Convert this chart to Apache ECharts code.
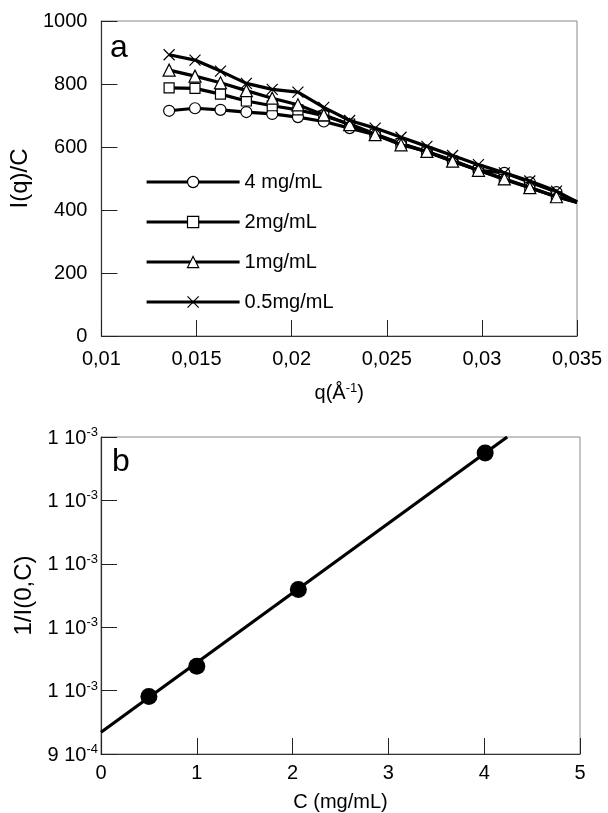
<!DOCTYPE html>
<html><head><meta charset="utf-8">
<script src="https://cdn.jsdelivr.net/npm/echarts@6/dist/echarts.min.js"></script>
<style>html,body{margin:0;padding:0;background:#fff}#c{width:608px;height:813px}</style>
</head><body><div id="c"></div>
<script>
// ---- Panel a data ----
var qValues = [0.01356, 0.01492, 0.01626, 0.01762, 0.01898, 0.02033, 0.02169, 0.02305, 0.02439, 0.02575, 0.02711, 0.02846, 0.02982, 0.03118, 0.03252, 0.03392];
var qEnd = 0.035;
var seriesNames = ['4 mg/mL', '2mg/mL', '1mg/mL', '0.5mg/mL'];
var i4 = [715, 723, 718, 711, 705, 695, 681, 660, 639, 611, 586, 558, 526, 518, 488, 457];
var i2 = [788, 786, 768, 746, 731, 718, 699, 673, 641, 611, 584, 555, 526, 497, 471, 442];
var i1 = [844, 825, 804, 779, 755, 734, 702, 671, 639, 607, 586, 555, 526, 499, 471, 442];
var i05 = [893, 876, 841, 802, 783, 774, 726, 684, 660, 631, 602, 573, 544, 518, 492, 460];
var iEnd = [426, 425, 424, 425];
var aXTicks = [0.01, 0.015, 0.02, 0.025, 0.03, 0.035];
var aYTicks = [0, 200, 400, 600, 800, 1000];

// ---- Panel b data ----
var cValues = [0.5, 1.0, 2.06, 4.01];
var invI0 = [0.0009453, 0.0009692, 0.0010297, 0.0011374];
var fitC = [0, 4.24];
var fitInv = [0.0009171, 0.00115];
var bXTicks = [0, 1, 2, 3, 4, 5];
var bYTicks = [0.0009, 0.00095, 0.001, 0.00105, 0.0011, 0.00115];

var FONT = 'Liberation Sans, Arial, sans-serif';
var chart = echarts.init(document.getElementById('c'), null, {renderer: 'canvas'});

function pts(xs, ys, endX, endY) {
  var d = xs.map(function (x, k) { return [x, ys[k]]; });
  d.push({value: [endX, endY], symbol: 'none'});
  return d;
}
var symbols = ['circle', 'rect', 'triangle', 'path://M0,0L10,10M10,0L0,10'];
var sizes = [11, 10, 12, 11];
var aData = [i4, i2, i1, i05];

var series = [];
for (var s = 3; s >= 0; s--) {
  series.push({
    name: seriesNames[s], type: 'line', xAxisIndex: 0, yAxisIndex: 0,
    data: pts(qValues, aData[s], qEnd, iEnd[s]),
    symbol: symbols[s], symbolSize: sizes[s], showAllSymbol: true,
    lineStyle: {color: '#000', width: 3.2},
    itemStyle: {color: '#fff', borderColor: '#000', borderWidth: 1.2},
    z: 2 + s
  });
}
series.push({
  type: 'line', xAxisIndex: 1, yAxisIndex: 1,
  data: fitC.map(function (x, k) { return [x, fitInv[k]]; }),
  symbol: 'none', lineStyle: {color: '#000', width: 3.2}, z: 2
});
series.push({
  type: 'scatter', xAxisIndex: 1, yAxisIndex: 1,
  data: cValues.map(function (x, k) { return [x, invI0[k]]; }),
  symbol: 'circle', symbolSize: 17, itemStyle: {color: '#000', opacity: 1}, z: 3
});

function commaFmt(v) {
  var t = parseFloat(v.toFixed(4));
  return String(t).replace('.', ',');
}
function plainFmt(v) { return String(v); }
function sciFmt(v) {
  var e = Math.floor(Math.log10(v) + 1e-9);
  var m = Math.round(v / Math.pow(10, e));
  if (m >= 10) { m = m / 10; e += 1; }
  return '{b|' + m + ' 10}{s|' + e + '}';
}

var axisLineStyle = {lineStyle: {color: '#333', width: 1.2}};
var tickStyle = {show: true, inside: true, length: 16, lineStyle: {color: '#222', width: 1}};

chart.setOption({
  animation: false,
  backgroundColor: '#fff',
  textStyle: {fontFamily: FONT, color: '#000'},
  grid: [
    {left: 98, right: 31, top: 21, height: 315, show: true, borderColor: '#888', borderWidth: 1},
    {left: 101, right: 28, top: 437, height: 317, show: true, borderColor: '#888', borderWidth: 1}
  ],
  legend: {
    data: seriesNames,
    orient: 'vertical', left: 140, top: 166,
    itemWidth: 93, itemHeight: 14, itemGap: 18,
    textStyle: {fontFamily: FONT, fontSize: 20, color: '#000', lineHeight: 22},
    lineStyle: {color: '#000', width: 3.2},
    itemStyle: {color: '#fff', borderColor: '#000', borderWidth: 1.2},
    selectedMode: false
  },
  xAxis: [
    {type: 'value', gridIndex: 0, min: aXTicks[0], max: aXTicks[aXTicks.length - 1], interval: aXTicks[1] - aXTicks[0],
     splitLine: {show: false}, axisLine: axisLineStyle, axisTick: tickStyle,
     axisLabel: {formatter: commaFmt, fontSize: 20, color: '#000', margin: 13, fontFamily: FONT},
     name: 'q(Å{s|-1})', nameLocation: 'middle', nameGap: 46,
     nameTextStyle: {fontSize: 20, color: '#000', fontFamily: FONT,
       rich: {s: {fontSize: 13, verticalAlign: 'top', lineHeight: 22, fontFamily: FONT}}}},
    {type: 'value', gridIndex: 1, min: bXTicks[0], max: bXTicks[bXTicks.length - 1], interval: 1,
     splitLine: {show: false}, axisLine: axisLineStyle, axisTick: tickStyle,
     axisLabel: {fontSize: 20, color: '#000', margin: 9, fontFamily: FONT},
     name: 'C (mg/mL)', nameLocation: 'middle', nameGap: 38,
     nameTextStyle: {fontSize: 20, color: '#000', fontFamily: FONT}}
  ],
  yAxis: [
    {type: 'value', gridIndex: 0, min: aYTicks[0], max: aYTicks[aYTicks.length - 1], interval: 200,
     splitLine: {show: false}, axisLine: axisLineStyle, axisTick: tickStyle,
     axisLabel: {formatter: plainFmt, fontSize: 20, color: '#000', margin: 14, fontFamily: FONT},
     name: 'I(q)/C', nameLocation: 'middle', nameGap: 60,
     nameTextStyle: {fontSize: 24, color: '#000', fontFamily: FONT}},
    {type: 'value', gridIndex: 1, min: bYTicks[0], max: bYTicks[bYTicks.length - 1], interval: 0.00005,
     splitLine: {show: false}, axisLine: axisLineStyle, axisTick: tickStyle,
     axisLabel: {formatter: sciFmt, color: '#000', margin: 3,
       rich: {b: {fontSize: 20, fontFamily: FONT, color: '#000', lineHeight: 22, verticalAlign: 'bottom'},
              s: {fontSize: 13, fontFamily: FONT, color: '#000', verticalAlign: 'top', lineHeight: 22}}},
     name: '1/I(0,C)', nameLocation: 'middle', nameGap: 63,
     nameTextStyle: {fontSize: 24, color: '#000', fontFamily: FONT}}
  ],
  graphic: [
    {type: 'text', left: 110, top: 32, style: {text: 'a', font: '32px ' + FONT, fill: '#000'}},
    {type: 'text', left: 112, top: 446, style: {text: 'b', font: '32px ' + FONT, fill: '#000'}}
  ],
  series: series
});
</script>
</body></html>
